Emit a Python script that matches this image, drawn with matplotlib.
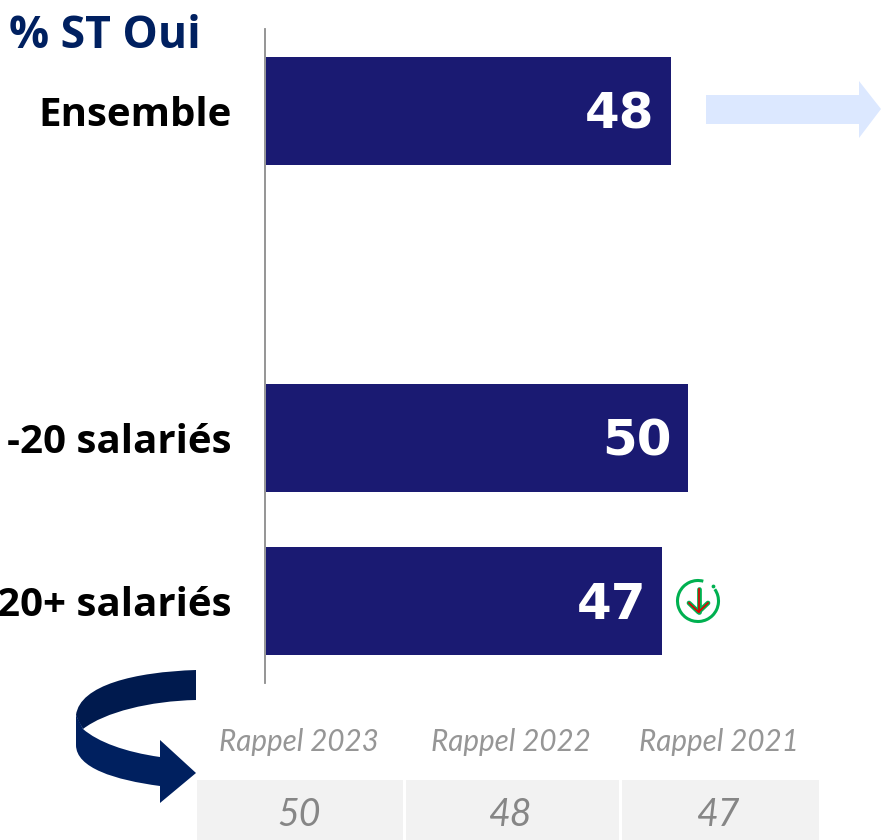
import matplotlib.pyplot as plt
from matplotlib.patches import Arc, Circle, PathPatch, Polygon, Rectangle
from matplotlib.path import Path

categories = ['Ensemble', '', '-20 salariés', '20+ salariés']
values = [48, None, 50, 47]
rappel_labels = ['Rappel 2023', 'Rappel 2022', 'Rappel 2021']
rappel_values = [50, 48, 47]

W, H = 881, 840
navy = '#1A1A72'
dark = '#002060'
label_font = 'Open Sans'
rappel_font = 'Lato'

fig = plt.figure(figsize=(W / 100, H / 100), dpi=100)

# overlay in pixel coords for the shapes around the chart
over = fig.add_axes([0, 0, 1, 1])
over.set_xlim(0, W)
over.set_ylim(H, 0)
over.axis('off')

ax = fig.add_axes([266 / W, 1 - 683 / H, (W - 266) / W, 654 / H])
ax.patch.set_alpha(0)
ax.spines['left'].set_position(('outward', 0.5))
rows = range(len(categories))
for i in rows:
    if values[i] is None:
        continue
    ax.barh(i, values[i], height=0.66, color=navy)
    ax.text(values[i] - 1.9, i + 0.025, str(values[i]), color='white', fontsize=36,
            fontweight='bold', ha='right', va='center', family='DejaVu Sans')
ax.set_xlim(0, (W - 266) / 8.43)
ax.set_ylim(3.5, -0.5)
ax.set_yticks(list(rows))
ax.set_yticklabels(categories, fontsize=29, fontweight='bold', family=label_font)
ax.tick_params(axis='y', length=0, pad=24.5)
ax.set_xticks([])
for s in ['top', 'right', 'bottom']:
    ax.spines[s].set_visible(False)
ax.spines['left'].set_color('#8C8C8C')
ax.spines['left'].set_linewidth(1.3)

over.text(9, 37, '% ST Oui', color=dark, fontsize=32, fontweight='bold',
          family=label_font, ha='left', va='center')

# pale arrow next to Ensemble
over.add_patch(Polygon([(706, 95), (859, 95), (859, 81), (881, 109), (859, 138),
                        (859, 124), (706, 124)], closed=True, color='#DCE8FF', lw=0))

# down arrow icon
green = '#00B050'
over.add_patch(Arc((698, 601), 41, 41, theta1=-35, theta2=285, color=green, lw=2.2))
over.add_patch(Circle((713.5, 586.5), 1.9, color=green, lw=0))
over.plot([698.5, 698.5], [589, 612], color=green, lw=3.4, solid_capstyle='round')
over.plot([689, 698.5, 708], [603, 612, 603], color=green, lw=3.4,
          solid_capstyle='round', solid_joinstyle='round')
over.plot([698.5, 698.5], [589, 612], color='#E00000', lw=1.2)
over.plot([689, 698.5, 708], [603, 612, 603], color='#E00000', lw=1.2)

# curved arrow
C4 = Path.CURVE4
upper = Path([(196, 670), (135, 672), (80, 685), (76, 715), (79, 722), (83, 729), (83, 729),
              (105, 712), (150, 701), (196, 700), (196, 670)],
             [Path.MOVETO, C4, C4, C4, Path.LINETO, Path.LINETO, Path.LINETO,
              C4, C4, C4, Path.CLOSEPOLY])
lower = Path([(76, 715), (76, 745), (76, 768), (115, 780), (160, 786), (160, 803), (196, 773),
              (160, 740), (160, 757), (125, 752), (98, 742), (83, 729), (76, 715)],
             [Path.MOVETO, Path.LINETO, C4, C4, C4, Path.LINETO, Path.LINETO, Path.LINETO,
              Path.LINETO, C4, C4, C4, Path.CLOSEPOLY])
over.add_patch(PathPatch(upper, facecolor='#001A4E', lw=0))
over.add_patch(PathPatch(lower, facecolor='#00205F', lw=0))

# rappel table
cells = [(197, 403), (406, 619), (622, 819)]
centres = [299, 511, 719]
for (x0, x1), cx, lab, val in zip(cells, centres, rappel_labels, rappel_values):
    over.add_patch(Rectangle((x0, 780), x1 - x0, 60, color='#F2F2F2', lw=0))
    over.text(cx, 742, lab, color='#969696', fontsize=21.3, style='italic',
              family=rappel_font, ha='center', va='center')
    over.text(cx, 815, str(val), color='#868686', fontsize=27, style='italic',
              family=rappel_font, ha='center', va='center')

fig.savefig('out.png', dpi=100)
